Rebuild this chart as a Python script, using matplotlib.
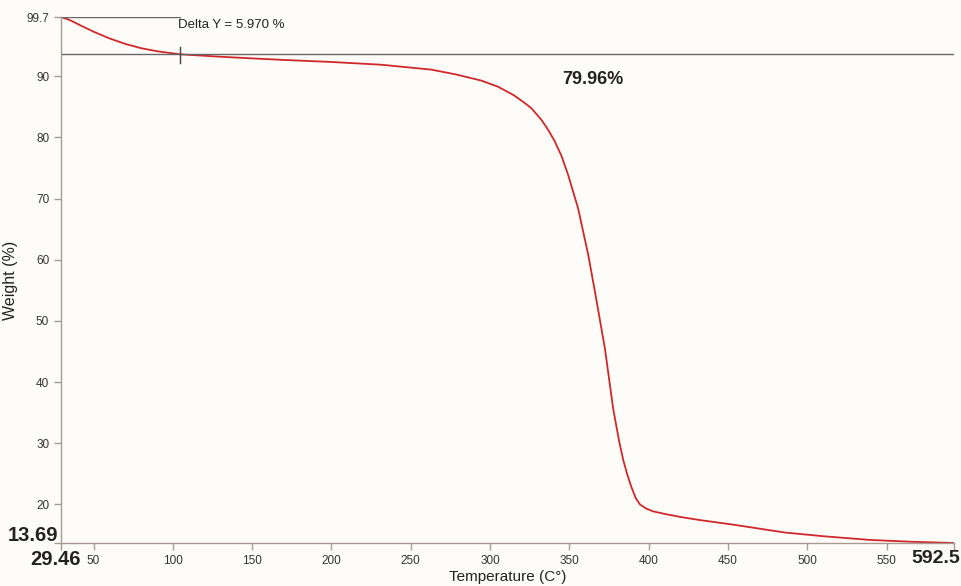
import matplotlib.pyplot as plt

plt.rcParams['font.family'] = ['Liberation Sans', 'DejaVu Sans']

# TGA curve
temp = [29.46, 35, 42, 50, 60, 70, 80, 90, 104.5, 130, 167.9, 199.6, 231.2,
        262.8, 278.6, 294.5, 305, 315, 321, 326, 332.3, 336.5, 340.7, 345,
        349.2, 355.5, 361.9, 366.1, 372.4, 377.7, 381.4, 384, 386.6, 389,
        391.9, 394.5, 398.2, 403, 410.9, 420, 432, 453, 486, 510, 539, 565,
        592.5]
weight = [99.7, 99.2, 98.3, 97.3, 96.2, 95.3, 94.6, 94.1, 93.6, 93.2, 92.7,
          92.35, 91.9, 91.1, 90.3, 89.3, 88.3, 86.9, 85.8, 84.8, 82.9, 81.3,
          79.4, 77.0, 73.9, 68.4, 60.8, 54.8, 45.5, 35.5, 30.3, 27.2, 24.8,
          22.9, 21.0, 20.0, 19.35, 18.85, 18.4, 17.95, 17.45, 16.7, 15.4,
          14.8, 14.2, 13.9, 13.69]

x_min, x_max = 29.46, 592.5
y_min, y_max = 13.69, 99.7
x_ticks = [50, 100, 150, 200, 250, 300, 350, 400, 450, 500, 550]
y_ticks = [20, 30, 40, 50, 60, 70, 80, 90]
step_T = 104.5
step_W = 93.73
delta_text = 'Delta Y = 5.970 %'
loss_text = '79.96%'

bg = '#fdfcf9'
spine_col = '#a89a90'
bold_kw = dict(fontsize=14.5, fontweight='bold', color='#222222')

fig = plt.figure(figsize=(9.61, 5.86), dpi=100, facecolor=bg)
ax = fig.add_axes([61 / 961, 1 - 543 / 586, (954 - 61) / 961, (543 - 17) / 586])
ax.set_facecolor(bg)

ax.plot(temp, weight, color='#d0282a', lw=1.3)

# step analysis markers
ax.plot([x_min, x_max], [step_W, step_W], color='#666666', lw=1)
ax.plot([x_min, step_T], [y_max, y_max], color='#666666', lw=1)
ax.plot([step_T, step_T], [92.1, 94.75], color='#444444', lw=1)
ax.text(step_T - 1.5, 98.35, delta_text, fontsize=9.5, color='#222222', va='center')
ax.text(345.5, 89.5, loss_text, ha='left', va='center', fontsize=13,
        fontweight='bold', color='#222222')

ax.set_xlim(x_min, x_max)
ax.set_ylim(y_min, y_max)
for s in ['top', 'right']:
    ax.spines[s].set_visible(False)
for s in ['left', 'bottom']:
    ax.spines[s].set_color(spine_col)
    ax.spines[s].set_linewidth(1)

ax.set_xticks([x_min] + x_ticks + [x_max])
ax.set_xticklabels([''] + [str(t) for t in x_ticks] + [''])
ax.set_yticks([y_min] + y_ticks + [y_max])
ax.set_yticklabels([''] + [str(t) for t in y_ticks] + ['99.7'])
ax.tick_params(axis='both', colors=spine_col, labelcolor='#333333',
               labelsize=8.5, length=5, width=1)

# bold range labels
ax.text(-0.0034, 0.015, '13.69', transform=ax.transAxes, ha='right', va='center', **bold_kw)
ax.text(-0.0067, -0.032, '29.46', transform=ax.transAxes, ha='center', va='center', **bold_kw)
ax.text(1.007, -0.030, '592.5', transform=ax.transAxes, ha='right', va='center',
        fontsize=14, fontweight='bold', color='#222222')

ax.set_xlabel('Temperature (C°)', fontsize=11, color='#222222')
ax.set_ylabel('Weight (%)', fontsize=11.5, color='#222222')
ax.xaxis.set_label_coords(0.5, -0.052)
ax.yaxis.set_label_coords(-0.048, 0.5)

fig.savefig('out.png', dpi=100, facecolor=bg)
